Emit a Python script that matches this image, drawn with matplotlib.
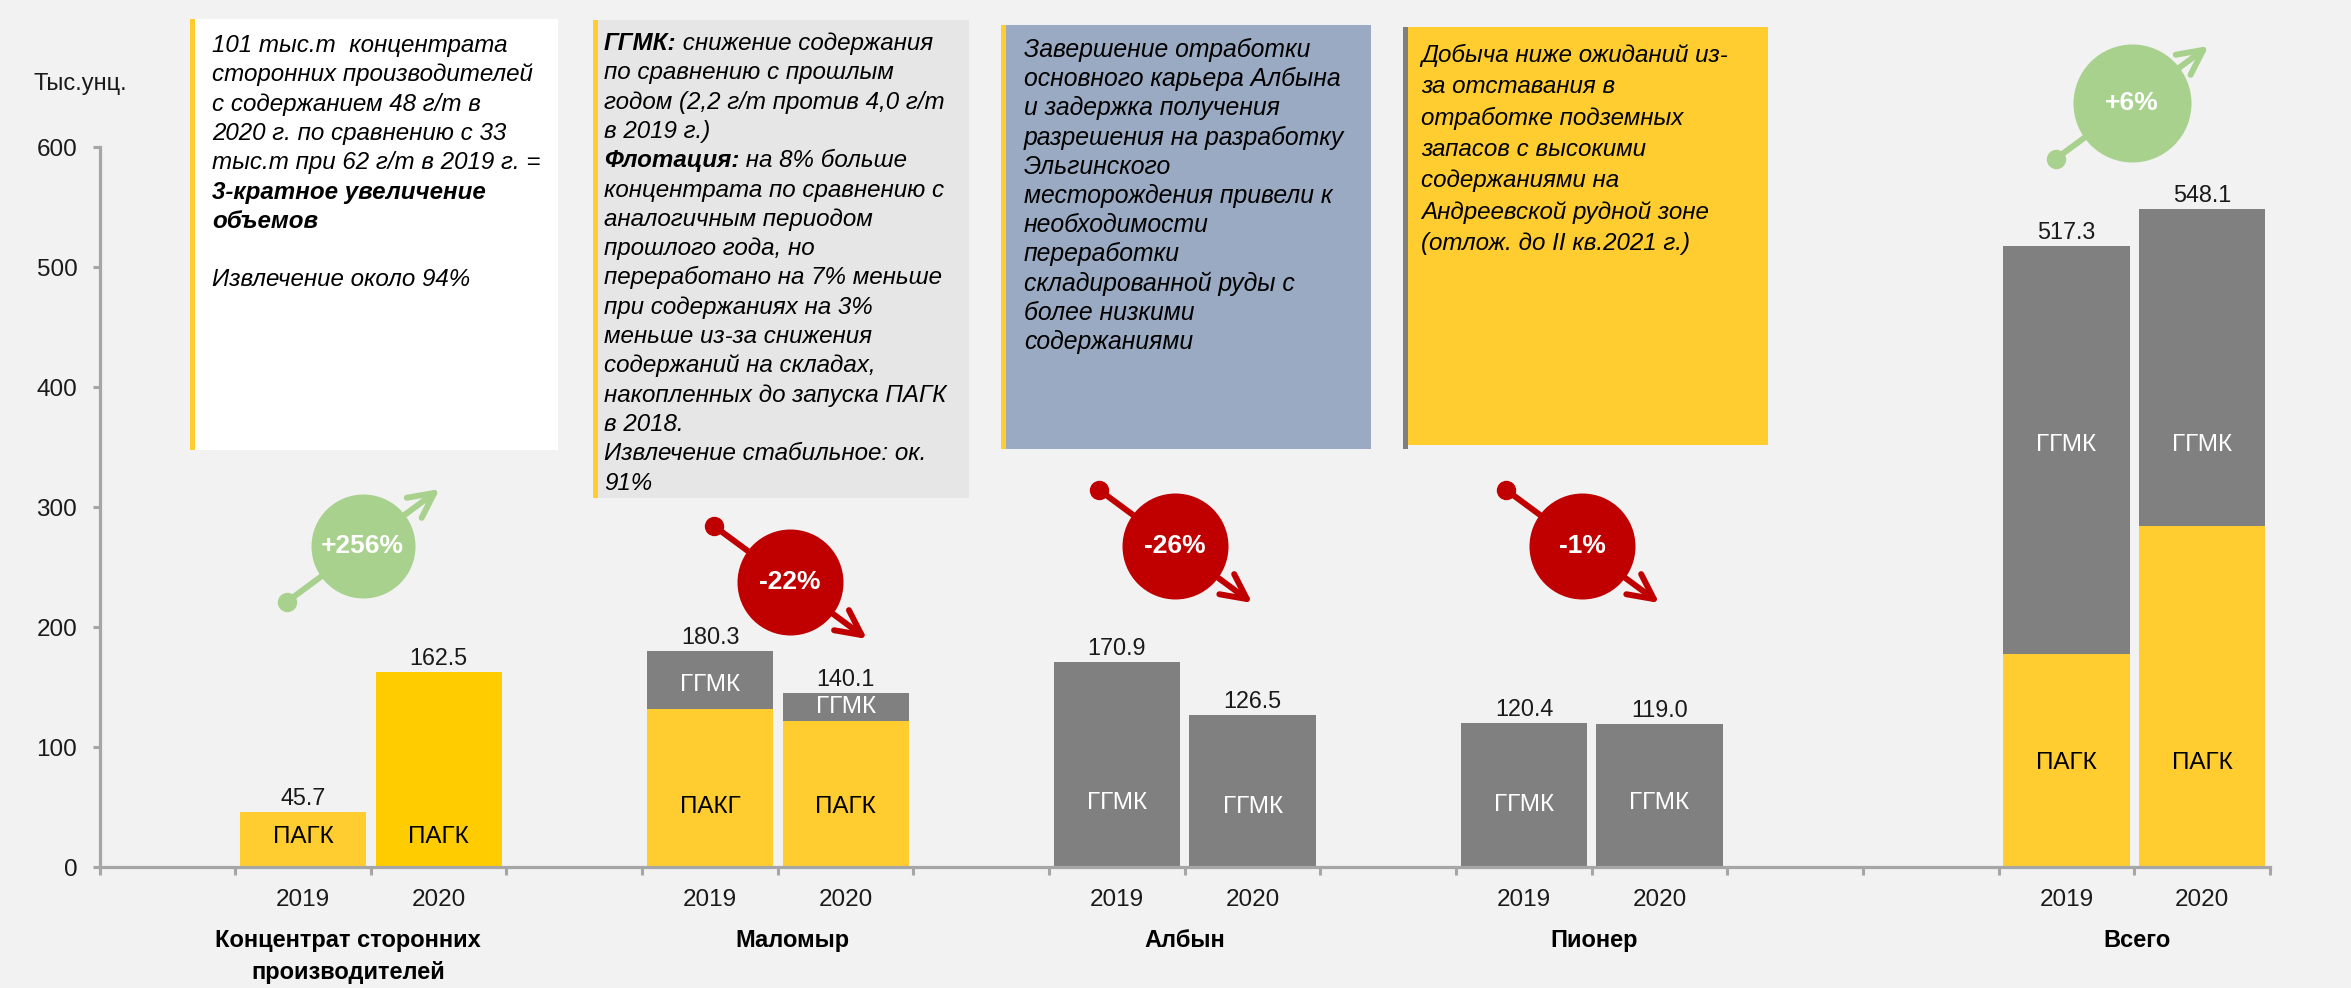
import matplotlib
matplotlib.use("Agg")
import matplotlib.pyplot as plt
from matplotlib.patches import Rectangle
from matplotlib.transforms import offset_copy

plt.rcParams['font.family'] = ['Liberation Sans', 'DejaVu Sans']

W, H, DPI = 2351, 988, 100

# ---- data ----
years = ["2019", "2020"]
groups = ["Концентрат сторонних\nпроизводителей", "Маломыр", "Албын", "Пионер", "Всего"]
pagk = [45.7, 162.5, 132.0, 122.0, 0, 0, 0, 0, 177.7, 284.5]
ggmk = [0, 0, 48.3, 23.0, 170.9, 126.5, 120.4, 119.0, 339.6, 263.6]
totals = ["45.7", "162.5", "180.3", "140.1", "170.9", "126.5", "120.4", "119.0", "517.3", "548.1"]
pagk_names = ["ПАГК", "ПАГК", "ПАКГ", "ПАГК", "", "", "", "", "ПАГК", "ПАГК"]
changes = ["+256%", "-22%", "-26%", "-1%", "+6%"]

notes = [
    ["101 тыс.т  концентрата", "сторонних производителей", "с содержанием 48 г/т в",
     "2020 г. по сравнению с 33", "тыс.т при 62 г/т в 2019 г. =", "**3-кратное увеличение",
     "**объемов", "", "Извлечение около 94%"],
    ["**ГГМК:| снижение содержания", "по сравнению с прошлым", "годом (2,2 г/т против 4,0 г/т",
     "в 2019 г.)", "**Флотация:| на 8% больше", "концентрата по сравнению с",
     "аналогичным периодом", "прошлого года, но", "переработано на 7% меньше",
     "при содержаниях на 3%", "меньше из-за снижения", "содержаний на складах,",
     "накопленных до запуска ПАГК", "в 2018.", "Извлечение стабильное: ок.", "91%"],
    ["Завершение отработки", "основного карьера Албына", "и задержка получения",
     "разрешения на разработку", "Эльгинского", "месторождения привели к",
     "необходимости", "переработки", "складированной руды с", "более низкими",
     "содержаниями"],
    ["Добыча ниже ожиданий из-", "за отставания в", "отработке подземных",
     "запасов с высокими", "содержаниями на", "Андреевской рудной зоне",
     "(отлож. до II кв.2021 г.)"],
]

# ---- layout / style ----
BG = "#F2F2F2"
YEL = "#FFCD2F"
YEL2 = "#FFCC00"
GRAY = "#808080"
AX = "#A6A6A6"
GREEN = "#A9D18E"
RED = "#C00000"

slots = [1, 2, 4, 5, 7, 8, 10, 11, 14, 15]
xs = [s + 0.5 for s in slots]
group_x = [1.83, 5.11, 8.0, 11.02, 15.02]
pagk_lab_y = [25, 25, 50, 50, 0, 0, 0, 0, 87, 87]
ggmk_lab_y = [0, 0, 152, 133, 53, 50, 52, 53, 352, 352]
pagk_cols = [YEL, YEL2] + [YEL] * 8
PT = 72 / DPI

fig = plt.figure(figsize=(W / DPI, H / DPI), dpi=DPI, facecolor=BG)

# overlay in pixel coords for the comment boxes
ov = fig.add_axes([0, 0, 1, 1])
ov.set_xlim(0, W); ov.set_ylim(H, 0); ov.axis("off")

boxes = [  # x0, y0, x1, y1, face, stripe, text x, first baseline, line step, font size
    (190, 19, 558, 450, "white", YEL, 212, 52, 29.3, 17.4),
    (593, 20, 969, 498, "#E6E6E6", YEL, 604, 50, 29.3, 17.4),
    (1001, 25, 1371, 449, "#9AAAC2", YEL, 1024, 57, 29.2, 17.8),
    (1403, 27, 1768, 445, YEL, "#7F7F7F", 1421, 62, 31.3, 17.4),
]
for (x0, y0, x1, y1, fc, sc, tx, by, step, fs), lines in zip(boxes, notes):
    ov.add_patch(Rectangle((x0, y0), x1 - x0, y1 - y0, facecolor=fc, edgecolor="none"))
    ov.add_patch(Rectangle((x0, y0), 5, y1 - y0 + (4 if sc != YEL else 0),
                           facecolor=sc, edgecolor="none"))
    for i, ln in enumerate(lines):
        if not ln:
            continue
        y = by + i * step
        if ln.startswith("**"):
            parts = ln[2:].split("|")
            t = ov.text(tx, y, parts[0], fontsize=fs, style="italic",
                        fontweight="bold", va="baseline", ha="left")
            if len(parts) > 1:
                ov.annotate(parts[1], xy=(1, 0), xycoords=t, va="bottom", ha="left",
                            fontsize=fs, style="italic")
        else:
            ov.text(tx, y, ln, fontsize=fs, style="italic", va="baseline", ha="left")

ov.text(33, 90, "Тыс.унц.", fontsize=17, va="baseline", ha="left", color="#1a1a1a")

# ---- main chart ----
ax = fig.add_axes([99.5 / W, 1 - 867 / H, (2270 - 99.5) / W, 720 / H])
ax.set_facecolor("none")
ax.set_xlim(0, 16)
ax.set_ylim(0, 600)

ax.bar(xs, pagk, width=0.93, color=pagk_cols, zorder=2)
ax.bar(xs, ggmk, width=0.93, bottom=pagk, color=GRAY, zorder=2)

for x, p, g, t, pn, py, gy in zip(xs, pagk, ggmk, totals, pagk_names, pagk_lab_y, ggmk_lab_y):
    ax.annotate(t, xy=(x, p + g), xytext=(0, 5), textcoords="offset points",
                ha="center", va="baseline", fontsize=16.8, color="#1a1a1a")
    if p > 0:
        ax.text(x, py, pn, ha="center", va="center", fontsize=17.5, color="black")
    if g > 0:
        ax.text(x, gy, "ГГМК", ha="center", va="center", fontsize=17.5, color="white")

for sp in ("top", "right"):
    ax.spines[sp].set_visible(False)
for sp in ("left", "bottom"):
    ax.spines[sp].set_color(AX)
    ax.spines[sp].set_linewidth(2.3)

ax.set_yticks(range(0, 601, 100))
ax.tick_params(axis="y", length=5, width=2.2, color=AX, labelsize=17.5,
               labelcolor="#1a1a1a", pad=11)
ax.set_xticks(range(17))
ax.set_xticklabels([])
ax.tick_params(axis="x", which="major", length=6, width=2.2, color=AX)
ax.set_xticks(xs, minor=True)
ax.set_xticklabels(years * 5, minor=True)
ax.tick_params(axis="x", which="minor", length=0, labelsize=17.5,
               labelcolor="#1a1a1a", pad=16)

for gx, name in zip(group_x, groups):
    for k, part in enumerate(name.split("\n")):
        ax.annotate(part, xy=(gx, 0), xycoords=("data", "axes fraction"),
                    xytext=(0, -(80 + 32 * k) * PT), textcoords="offset points",
                    ha="center", va="baseline", fontsize=17, fontweight="bold",
                    color="black", annotation_clip=False)

# ---- change badges ----
badge_x = [1.94, 5.09, 7.93, 10.93, 14.98]
badge_y = [267.5, 237.5, 267.5, 267.5, 636.7]
badge_r = [52, 53, 53, 53, 59]  # px
for bx, by, r, lab in zip(badge_x, badge_y, badge_r, changes):
    up = lab.startswith("+")
    col = GREEN if up else RED
    sgn = 1 if up else -1
    dot_tr = offset_copy(ax.transData, fig=fig, x=-76 * PT, y=-56 * sgn * PT, units="points")
    tip_tr = offset_copy(ax.transData, fig=fig, x=77 * PT, y=57 * sgn * PT, units="points")
    ax.annotate("", xy=(bx, by), xycoords=tip_tr, xytext=(bx, by), textcoords=dot_tr,
                arrowprops=dict(arrowstyle="->,head_length=0.9,head_width=0.45",
                                mutation_scale=20, lw=4.3, color=col,
                                shrinkA=0, shrinkB=0, capstyle="round",
                                joinstyle="round"),
                annotation_clip=False, zorder=5)
    ax.plot([bx], [by], marker="o", ms=18 * PT, color=col, transform=dot_tr,
            clip_on=False, zorder=5)
    ax.plot([bx], [by], marker="o", ms=2 * r * PT, color=col, mew=0,
            clip_on=False, zorder=6)
    ax.text(bx, by, lab, ha="center", va="center", fontsize=19, fontweight="bold",
            color="white", zorder=7)

fig.savefig("out.png", dpi=DPI, facecolor=BG)
